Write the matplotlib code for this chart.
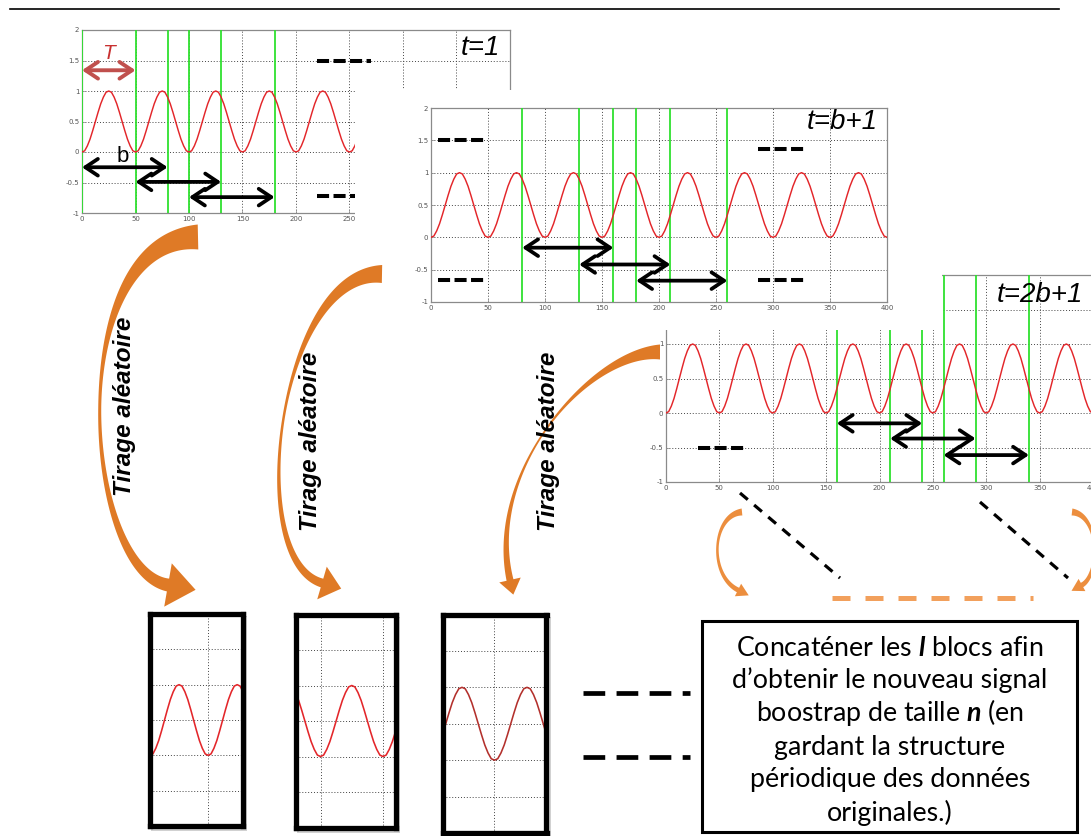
import numpy as np
import matplotlib
matplotlib.use("Agg")
import matplotlib.pyplot as plt
from matplotlib.patches import Polygon, Rectangle
from matplotlib.ticker import FuncFormatter, MultipleLocator

plt.rcParams['mathtext.fontset'] = 'custom'
plt.rcParams['mathtext.bf'] = 'Lato:italic:bold'

# ------------------------------------------------------------------ data
PERIOD = 50
# one period of the periodic signal, read every 2.5 samples
period_shape = [0.00, 0.02, 0.10, 0.21, 0.35, 0.50, 0.65, 0.79, 0.90, 0.98,
                1.00, 0.98, 0.90, 0.79, 0.65, 0.50, 0.35, 0.21, 0.10, 0.02]
N_PERIODS = 8
signal_x = np.arange(len(period_shape) * N_PERIODS + 1) * PERIOD / len(period_shape)
signal_y = np.append(np.tile(period_shape, N_PERIODS), period_shape[0])

panel_titles = ['t=1', 't=b+1', 't=2b+1']
panel_blocks = [[(0, 80), (50, 130), (100, 180)],
                [(80, 160), (130, 210), (180, 260)],
                [(160, 240), (210, 290), (260, 340)]]
block_arrow_y = [[-0.25, -0.49, -0.74],
                 [-0.16, -0.42, -0.67],
                 [-0.15, -0.37, -0.61]]
extra_green = [[50], [], []]
dash_marks = [[(220, 270, 1.5), (220, 270, -0.72)],
              [(6, 48, 1.5), (6, 48, -0.66), (287, 328, 1.37), (287, 328, -0.66)],
              [(30, 74, -0.5)]]
period_arrow = (0, 50, 1.34)      # T
b_label = (38, -0.08)
drawn_blocks = [(0, 80), (80, 160), (160, 240)]
box_green_edges = [False, True, True]
box_lines = ["Concaténer les $\\mathbf{l}$ blocs afin",
             "d\u2019obtenir le nouveau signal",
             "boostrap de taille $\\mathbf{n}$ (en",
             "gardant la structure",
             "périodique des données",
             "originales.)"]
draw_label = "Tirage aléatoire"

# ------------------------------------------------------------------ style
W, H = 1091, 836
RED = '#e3262a'
GREEN = '#2fe02f'
ORANGE = '#df7a26'
ORANGE_L = '#ec8e3e'
ORANGE_D = '#f2a05c'

fig = plt.figure(figsize=(W / 100, H / 100), dpi=100)


def px_axes(x0, y0, x1, y1, z):
    return fig.add_axes([x0 / W, 1 - y1 / H, (x1 - x0) / W, (y1 - y0) / H], zorder=z)


def overlay(z):
    ax = fig.add_axes([0, 0, 1, 1], zorder=z)
    ax.set_xlim(0, W)
    ax.set_ylim(H, 0)
    ax.set_axis_off()
    ax.patch.set_visible(False)
    return ax


fmt = FuncFormatter(lambda v, p: f"{v:g}")
fmt_low = FuncFormatter(lambda v, p: f"{v:g}" if v <= 1 else "")  # upper labels hidden behind image


def matlab_axes(ax, yfmt):
    ax.set_xlim(0, 400)
    ax.set_ylim(-1, 2)
    ax.xaxis.set_major_locator(MultipleLocator(50))
    ax.yaxis.set_major_locator(MultipleLocator(0.5))
    ax.xaxis.set_major_formatter(fmt)
    ax.yaxis.set_major_formatter(yfmt)
    ax.tick_params(direction='in', length=2.5, width=0.5, color='#888',
                   labelsize=5, labelcolor='#555', pad=2)
    for s in ax.spines.values():
        s.set_color('#8a8a8a')
        s.set_linewidth(0.9)
    ax.grid(True, linestyle=(0, (1, 2)), color='#444', lw=0.7)
    ax.set_axisbelow(True)


def dbl_arrow(ax, x0, x1, y, color='black', lw=2.7):
    ax.annotate('', xy=(x1, y), xytext=(x0, y),
                arrowprops=dict(arrowstyle='<->, head_length=0.45, head_width=0.3',
                                color=color, lw=lw, mutation_scale=20,
                                shrinkA=0, shrinkB=0), zorder=6)


panel_rects = [(82, 30, 510, 213), (431, 108, 887, 302), (666, 275, 1093, 482)]
panel_z = [1, 4, 2]
panel_yfmt = [fmt, fmt, fmt_low]
title_pos = [(0.977, 0.90), (0.980, 0.928), (0.977, 0.903)]

# white background of the t=b+1 image (covers parts of the other two)
bg2 = px_axes(355, 90, 942, 330, 3)
bg2.set_axis_off()
bg2.add_patch(Rectangle((0, 0), 1, 1, transform=bg2.transAxes, fc='white', ec='none'))

for i in range(3):
    ax = px_axes(*panel_rects[i], panel_z[i])
    matlab_axes(ax, panel_yfmt[i])
    ax.plot(signal_x, signal_y, color=RED, lw=1.05, zorder=4)
    edges = sorted(set([e for blk in panel_blocks[i] for e in blk] + extra_green[i]))
    for e in edges:
        ax.axvline(e, color=GREEN, lw=1.3, zorder=3)
    for (lo, hi), yy in zip(panel_blocks[i], block_arrow_y[i]):
        dbl_arrow(ax, lo, hi, yy)
    for (a, b, yy) in dash_marks[i]:
        ax.plot([a, b], [yy, yy], color='black', lw=2.9, ls=(0, (3, 1.1)),
                solid_capstyle='butt', dash_capstyle='butt', zorder=5)
    ax.text(*title_pos[i], panel_titles[i], transform=ax.transAxes, ha='right',
            va='center', fontsize=20, style='italic', family='Liberation Sans', zorder=7)
    if i == 0:
        dbl_arrow(ax, period_arrow[0], period_arrow[1], period_arrow[2], color='#c0504d', lw=2.8)
        ax.text((period_arrow[0] + period_arrow[1]) / 2, 1.62, 'T', color='#c83030',
                fontsize=15, style='italic', family='Liberation Sans', ha='center', va='center')
        ax.text(*b_label, 'b', fontsize=16, family='Liberation Sans', ha='center', va='center',
                zorder=7)

# ------------------------------------------------------------------ bottom blocks
under = overlay(0)
box_rects = [(150, 614, 243, 826), (295.5, 614.5, 395.5, 827.5), (442.5, 614.5, 546.5, 833)]
box_colors = [RED, RED, '#b3302c']
for k, (lo, hi) in enumerate(drawn_blocks):
    x0, y0, x1, y1 = box_rects[k]
    under.add_patch(Rectangle((x0 + 1, y0 + 2), x1 - x0 + 3, y1 - y0 + 3, fc='#999', ec='none',
                              alpha=0.45))
    ax = px_axes(x0, y0, x1, y1, 5)
    ax.set_xlim(lo, hi)
    ax.set_ylim(-1, 2)
    ax.set_xticks([v for v in range(0, 401, 50) if lo < v < hi])
    ax.yaxis.set_major_locator(MultipleLocator(0.5))
    ax.tick_params(length=0, labelbottom=False, labelleft=False)
    ax.grid(True, linestyle=(0, (1, 2)), color='#444', lw=0.7)
    ax.plot(signal_x, signal_y, color=box_colors[k], lw=1.15)
    if box_green_edges[k]:
        ax.axvline(lo, color=GREEN, lw=2.2)
        ax.axvline(hi, color=GREEN, lw=2.2)
    for s in ax.spines.values():
        s.set_color('black')
        s.set_linewidth(3.8)

# ------------------------------------------------------------------ annotations
over = overlay(10)
over.plot([10, 1059], [9, 9], color='black', lw=1.2)


def cubic(P, t):
    P = np.asarray(P, float)
    t = t[:, None]
    return ((1 - t) ** 3 * P[0] + 3 * (1 - t) ** 2 * t * P[1]
            + 3 * (1 - t) * t ** 2 * P[2] + t ** 3 * P[3])


def dcubic(P, t):
    P = np.asarray(P, float)
    t = t[:, None]
    return (3 * (1 - t) ** 2 * (P[1] - P[0]) + 6 * (1 - t) * t * (P[2] - P[1])
            + 3 * t ** 2 * (P[3] - P[2]))


def curved_arrow(ax, P, w0, wmin, w1, tmin, hl, hw, color):
    t = np.linspace(0, 1, 300)
    B = cubic(P, t)
    D = dcubic(P, t)
    T = D / np.linalg.norm(D, axis=1)[:, None]
    N = np.column_stack([-T[:, 1], T[:, 0]])
    w = np.where(t < tmin,
                 wmin + (w0 - wmin) * np.clip((tmin - t) / tmin, 0, 1) ** 1.8,
                 wmin + (w1 - wmin) * np.clip((t - tmin) / (1 - tmin), 0, 1) ** 1.5)
    L = B + N * w[:, None] / 2
    R = B - N * w[:, None] / 2
    tip = B[-1] + T[-1] * hl
    b1 = B[-1] + N[-1] * hw / 2
    b2 = B[-1] - N[-1] * hw / 2
    pts = np.vstack([L, [b1, tip, b2], R[::-1]])
    ax.add_patch(Polygon(pts, closed=True, fc=color, ec='none', zorder=3))


orange_arrows = [
    ([(198, 237), (62, 240), (82, 570), (168, 585)], 25, 3, 13, 0.5, 28, 44, ORANGE),
    ([(382, 274), (278, 272), (243, 560), (322, 583)], 18, 2.5, 9, 0.5, 20, 34, ORANGE),
    ([(660, 352), (590, 352), (485, 470), (510, 580)], 15, 1.8, 7, 0.55, 15, 22, ORANGE),
    ([(742, 512), (712, 515), (708, 575), (738, 590)], 7, 2.5, 5, 0.5, 12, 14, ORANGE_L),
    ([(1072, 512), (1100, 515), (1100, 575), (1082, 585)], 7, 2.5, 5, 0.5, 12, 14, ORANGE_L),
]
for P, w0, wmin, w1, tmin, hl, hw, c in orange_arrows:
    curved_arrow(over, P, w0, wmin, w1, tmin, hl, hw, c)

for (cx, cy) in [(125, 406), (311, 441), (549, 441)]:
    over.text(cx, cy, draw_label, rotation=90, ha='center', va='center', fontsize=17.5,
              weight='bold', style='italic', family='Liberation Sans', zorder=4)

# dashed connectors
for (xa, ya, xb, yb) in [(740, 493, 840, 578), (980, 502, 1068, 578)]:
    over.plot([xa, xb], [ya, yb], color='black', lw=2.3, ls=(0, (3.2, 2.6)),
              dash_capstyle='butt', zorder=2)
over.plot([832, 1033], [598, 598], color=ORANGE_D, lw=3.6, ls=(0, (3.6, 3.0)),
          dash_capstyle='butt', zorder=2)
for yy in [693, 757]:
    over.plot([583, 690], [yy, yy], color='black', lw=3.4, ls=(0, (4.6, 2.4)),
              dash_capstyle='butt', zorder=2)

# text box
over.add_patch(Rectangle((702, 621), 375, 211, fc='white', ec='black', lw=2.2, zorder=5))
line_y = [648, 680, 713, 747, 780, 813]
for s, yy in zip(box_lines, line_y):
    over.text(890, yy, s, ha='center', va='center', fontsize=19.3, family='Lato', zorder=6)

fig.savefig('out.png', dpi=100, facecolor='white')
